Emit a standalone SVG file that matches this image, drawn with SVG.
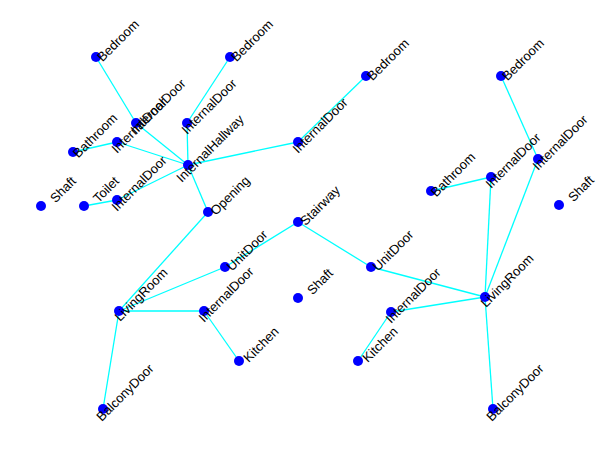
<svg xmlns="http://www.w3.org/2000/svg" width="614" height="461" viewBox="0 0 614 461">
<style>
.e{stroke:#00ffff;stroke-width:1.3;fill:none}
.n circle{fill:#0000ff;r:5px}
.n text{font-family:"Liberation Sans",Arial,sans-serif;font-size:13px;fill:#000;text-anchor:middle;dominant-baseline:central}
</style>
<rect width="614" height="461" fill="#fff"/>
<g id="edges" class="e">
<line x1="96" y1="57" x2="136" y2="123"/>
<line x1="136" y1="123" x2="188" y2="165"/>
<line x1="230" y1="57" x2="187" y2="123"/>
<line x1="187" y1="123" x2="188" y2="165"/>
<line x1="73" y1="152" x2="117" y2="142"/>
<line x1="117" y1="142" x2="188" y2="165"/>
<line x1="84" y1="206" x2="117" y2="200"/>
<line x1="117" y1="200" x2="188" y2="165"/>
<line x1="188" y1="165" x2="298" y2="142"/>
<line x1="298" y1="142" x2="366" y2="76"/>
<line x1="188" y1="165" x2="208" y2="212"/>
<line x1="208" y1="212" x2="119" y2="311"/>
<line x1="119" y1="311" x2="225" y2="267"/>
<line x1="225" y1="267" x2="298" y2="222"/>
<line x1="119" y1="311" x2="204" y2="311"/>
<line x1="204" y1="311" x2="239" y2="361"/>
<line x1="119" y1="311" x2="103" y2="409"/>
<line x1="298" y1="222" x2="371" y2="267"/>
<line x1="371" y1="267" x2="485" y2="297"/>
<line x1="485" y1="297" x2="391" y2="312"/>
<line x1="391" y1="312" x2="358" y2="361"/>
<line x1="485" y1="297" x2="493" y2="409"/>
<line x1="485" y1="297" x2="491" y2="177"/>
<line x1="491" y1="177" x2="431" y2="191"/>
<line x1="485" y1="297" x2="538" y2="159"/>
<line x1="538" y1="159" x2="501" y2="76"/>
</g>
<g id="nodes" class="n">
<g id="n1"><circle cx="96" cy="57"/><text transform="translate(118,40.5) rotate(-45)">Bedroom</text></g>
<g id="n2"><circle cx="230" cy="57"/><text transform="translate(252,40.5) rotate(-45)">Bedroom</text></g>
<g id="n3"><circle cx="366" cy="76"/><text transform="translate(388,59.5) rotate(-45)">Bedroom</text></g>
<g id="n4"><circle cx="501" cy="76"/><text transform="translate(523,59.5) rotate(-45)">Bedroom</text></g>
<g id="n5"><circle cx="136" cy="123"/><text transform="translate(158,106.5) rotate(-45)">InternalDoor</text></g>
<g id="n6"><circle cx="187" cy="123"/><text transform="translate(209,106.5) rotate(-45)">InternalDoor</text></g>
<g id="n7"><circle cx="117" cy="142"/><text transform="translate(139,125.5) rotate(-45)">InternalDoor</text></g>
<g id="n8"><circle cx="73" cy="152"/><text transform="translate(95,135.5) rotate(-45)">Bathroom</text></g>
<g id="n9"><circle cx="188" cy="165"/><text transform="translate(210,148.5) rotate(-45)">InternalHallway</text></g>
<g id="n10"><circle cx="298" cy="142"/><text transform="translate(320,125.5) rotate(-45)">InternalDoor</text></g>
<g id="n11"><circle cx="41" cy="206"/><text transform="translate(63,189.5) rotate(-45)">Shaft</text></g>
<g id="n12"><circle cx="84" cy="206"/><text transform="translate(106,189.5) rotate(-45)">Toilet</text></g>
<g id="n13"><circle cx="117" cy="200"/><text transform="translate(139,183.5) rotate(-45)">InternalDoor</text></g>
<g id="n14"><circle cx="208" cy="212"/><text transform="translate(230,195.5) rotate(-45)">Opening</text></g>
<g id="n15"><circle cx="298" cy="222"/><text transform="translate(320,205.5) rotate(-45)">Stairway</text></g>
<g id="n16"><circle cx="225" cy="267"/><text transform="translate(247,250.5) rotate(-45)">UnitDoor</text></g>
<g id="n17"><circle cx="298" cy="298"/><text transform="translate(320,281.5) rotate(-45)">Shaft</text></g>
<g id="n18"><circle cx="119" cy="311"/><text transform="translate(141,294.5) rotate(-45)">LivingRoom</text></g>
<g id="n19"><circle cx="204" cy="311"/><text transform="translate(226,294.5) rotate(-45)">InternalDoor</text></g>
<g id="n20"><circle cx="239" cy="361"/><text transform="translate(261,344.5) rotate(-45)">Kitchen</text></g>
<g id="n21"><circle cx="103" cy="409"/><text transform="translate(125,392.5) rotate(-45)">BalconyDoor</text></g>
<g id="n22"><circle cx="371" cy="267"/><text transform="translate(393,250.5) rotate(-45)">UnitDoor</text></g>
<g id="n23"><circle cx="391" cy="312"/><text transform="translate(413,295.5) rotate(-45)">InternalDoor</text></g>
<g id="n24"><circle cx="358" cy="361"/><text transform="translate(380,344.5) rotate(-45)">Kitchen</text></g>
<g id="n25"><circle cx="485" cy="297"/><text transform="translate(507,280.5) rotate(-45)">LivingRoom</text></g>
<g id="n26"><circle cx="493" cy="409"/><text transform="translate(515,392.5) rotate(-45)">BalconyDoor</text></g>
<g id="n27"><circle cx="491" cy="177"/><text transform="translate(513,160.5) rotate(-45)">InternalDoor</text></g>
<g id="n28"><circle cx="431" cy="191"/><text transform="translate(453,174.5) rotate(-45)">Bathroom</text></g>
<g id="n29"><circle cx="538" cy="159"/><text transform="translate(560,142.5) rotate(-45)">InternalDoor</text></g>
<g id="n30"><circle cx="559" cy="205"/><text transform="translate(581,188.5) rotate(-45)">Shaft</text></g>
</g>
</svg>
